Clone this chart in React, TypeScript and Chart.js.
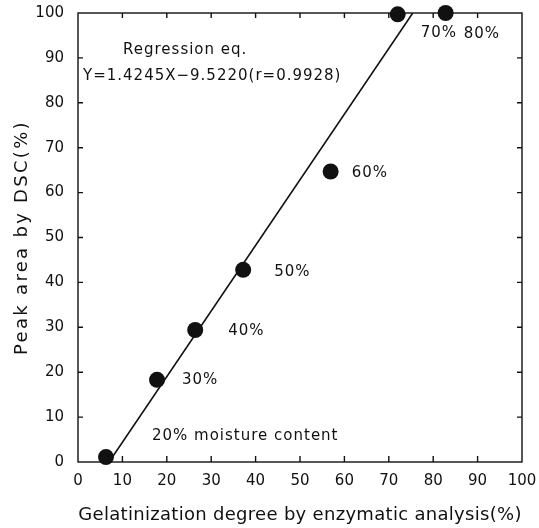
import React, { useEffect, useRef } from "react";
import { Chart, registerables } from "chart.js";

Chart.register(...registerables);

// ---- data ----
const gelatinization = [6.3, 17.8, 26.4, 37.2, 56.9, 72.0, 82.8];
const peakArea = [1.1, 18.3, 29.4, 42.8, 64.7, 99.7, 100.0];
const moistureLabels = ["20% moisture content", "30%", "40%", "50%", "60%", "70%", "80%"];
const regressionX = [7.0, 75.4];
const regressionY = [0, 100];
const axisTicks = [0, 10, 20, 30, 40, 50, 60, 70, 80, 90, 100];
const xTitle = "Gelatinization degree by enzymatic analysis(%)";
const yTitle = "Peak area by DSC(%)";
const equationLines = ["Regression eq.", "Y=1.4245X\u22129.5220(r=0.9928)"];

// ---- styling ----
const INK = "#111111";
const FONT = "'DejaVu Sans', sans-serif";
const labelOffsets: [number, number][] = [
  [46, -21],
  [25, 0],
  [33, 1],
  [31, 2],
  [21, 2],
  [23, 19],
  [18, 21],
];
const equationPos: [number, number][] = [
  [45, 37],
  [5, 63],
];

function setSpacing(ctx: any, v: string) {
  try {
    ctx.letterSpacing = v;
  } catch (e) {}
}

const framePlugin = {
  id: "frameAndLabels",
  beforeDatasetsDraw(chart: any) {
    const { ctx, chartArea, scales } = chart;
    const { left, right, top, bottom } = chartArea;
    const x = scales.x;
    const y = scales.y;
    ctx.save();
    ctx.strokeStyle = INK;
    ctx.lineWidth = 1.4;
    ctx.strokeRect(left, top, right - left, bottom - top);
    ctx.beginPath();
    axisTicks.forEach((v) => {
      if (v <= 0 || v >= 100) return;
      const px = x.getPixelForValue(v);
      ctx.moveTo(px, bottom);
      ctx.lineTo(px, bottom - 6);
      ctx.moveTo(px, top);
      ctx.lineTo(px, top + 5);
      const py = y.getPixelForValue(v);
      ctx.moveTo(left, py);
      ctx.lineTo(left + 5, py);
      ctx.moveTo(right, py);
      ctx.lineTo(right - 5, py);
    });
    ctx.stroke();
    ctx.restore();
  },
  afterDatasetsDraw(chart: any) {
    const { ctx, chartArea, scales } = chart;
    const x = scales.x;
    const y = scales.y;
    ctx.save();
    ctx.fillStyle = INK;
    ctx.textBaseline = "middle";
    ctx.textAlign = "left";
    ctx.font = `15px ${FONT}`;
    setSpacing(ctx, "1px");
    moistureLabels.forEach((label, i) => {
      const px = x.getPixelForValue(gelatinization[i]);
      const py = y.getPixelForValue(peakArea[i]);
      const [dx, dy] = labelOffsets[i];
      ctx.fillText(label, px + dx, py + dy);
    });
    equationLines.forEach((line, i) => {
      const [dx, dy] = equationPos[i];
      ctx.fillText(line, chartArea.left + dx, chartArea.top + dy);
    });

    // axis titles
    ctx.font = `18px ${FONT}`;
    ctx.textAlign = "center";
    setSpacing(ctx, "0.3px");
    ctx.fillText(xTitle, (chartArea.left + chartArea.right) / 2, chart.height - 13);
    setSpacing(ctx, "2.3px");
    ctx.translate(22, (chartArea.top + chartArea.bottom) / 2);
    ctx.rotate(-Math.PI / 2);
    ctx.fillText(yTitle, 0, 0);
    ctx.restore();
  },
};

export default function App() {
  const canvasRef = useRef<HTMLCanvasElement | null>(null);

  useEffect(() => {
    if (!canvasRef.current) return;
    const chart = new Chart(canvasRef.current, {
      type: "scatter",
      data: {
        datasets: [
          {
            label: "Regression",
            data: regressionX.map((v, i) => ({ x: v, y: regressionY[i] })),
            showLine: true,
            borderColor: INK,
            borderWidth: 1.6,
            pointRadius: 0,
            fill: false,
          },
          {
            label: "Samples",
            data: gelatinization.map((v, i) => ({ x: v, y: peakArea[i] })),
            backgroundColor: INK,
            borderColor: INK,
            borderWidth: 0,
            pointRadius: 8,
            pointHoverRadius: 8,
            clip: false as any,
          },
        ],
      },
      options: {
        animation: false,
        responsive: true,
        maintainAspectRatio: false,
        layout: { padding: { top: 13, right: 17, left: 0, bottom: 0 } },
        plugins: {
          legend: { display: false },
          tooltip: { enabled: false },
        },
        scales: {
          x: {
            type: "linear",
            min: 0,
            max: 100,
            afterBuildTicks: (s: any) => {
              s.ticks = axisTicks.map((v) => ({ value: v }));
            },
            ticks: {
              padding: 10,
              color: INK,
              font: { family: FONT, size: 15 },
              maxRotation: 0,
              autoSkip: false,
            },
            grid: { display: false, drawTicks: false },
            border: { display: false },
            afterFit: (s: any) => {
              s.height = 66;
              s.paddingLeft = 0;
              s.paddingRight = 0;
            },
          },
          y: {
            type: "linear",
            min: 0,
            max: 100,
            afterBuildTicks: (s: any) => {
              s.ticks = axisTicks.map((v) => ({ value: v }));
            },
            ticks: {
              padding: 14,
              color: INK,
              font: { family: FONT, size: 15 },
              autoSkip: false,
            },
            grid: { display: false, drawTicks: false },
            border: { display: false },
            afterFit: (s: any) => {
              s.width = 78;
              s.paddingTop = 0;
              s.paddingBottom = 0;
            },
          },
        },
      },
      plugins: [framePlugin],
    });
    return () => chart.destroy();
  }, []);

  return (
    <div style={{ position: "fixed", left: 0, top: 0, width: 539, height: 528, background: "#fff" }}>
      <canvas ref={canvasRef} />
    </div>
  );
}
